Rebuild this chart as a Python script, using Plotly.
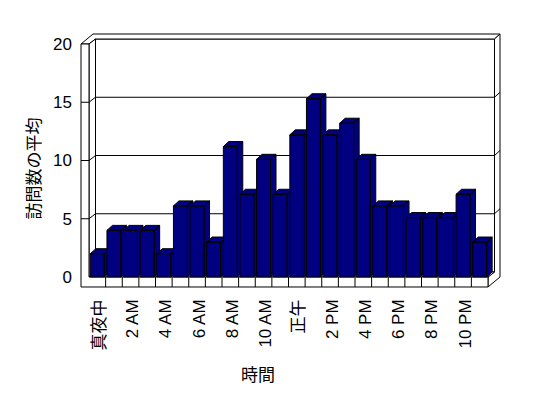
import plotly.graph_objects as go

# ---- data ----
hours = ["真夜中", "1 AM", "2 AM", "3 AM", "4 AM", "5 AM", "6 AM", "7 AM",
         "8 AM", "9 AM", "10 AM", "11 AM", "正午", "1 PM", "2 PM", "3 PM",
         "4 PM", "5 PM", "6 PM", "7 PM", "8 PM", "9 PM", "10 PM", "11 PM"]
visits = [2.0, 4.0, 4.0, 4.0, 2.0, 6.1, 6.1, 3.0, 11.2, 7.1, 10.1, 7.1,
          12.2, 15.3, 12.2, 13.2, 10.1, 6.1, 6.1, 5.1, 5.1, 5.1, 7.1, 3.0]
x_tick_idx = [0, 2, 4, 6, 8, 10, 12, 14, 16, 18, 20, 22]
x_tick_text = ["真夜中", "2 AM", "4 AM", "6 AM", "8 AM", "10 AM", "正午",
               "2 PM", "4 PM", "6 PM", "8 PM", "10 PM"]
y_ticks = [0, 5, 10, 15, 20]
y_grid = [5, 10, 15]
Y_MAX = 20
x_title = "時間"
y_title = "訪問数の平均"

# ---- 3D look (in axis units) ----
HALF = 0.42          # half bar width
BDX, BDY = 0.33, 0.43  # bar depth projection
FDX, FDY = 0.391, 0.429  # floor depth (to inner back wall)
TDX, TDY = 0.722, 0.858  # total depth incl. wall thickness
LW = 0.481           # left wall thickness
FH = 0.858           # floor thickness
NAVY = "#000080"
FONT = "Liberation Sans, Arial, Noto Sans CJK JP"

n = len(visits)
L, R = -0.5, n - 0.5

fig = go.Figure()


def poly(xs, ys, fill, width=1):
    fig.add_trace(go.Scatter(x=xs, y=ys, mode="lines", fill="toself",
                             fillcolor=fill, line=dict(color="black", width=width),
                             hoverinfo="skip", showlegend=False))


def line(xs, ys):
    fig.add_trace(go.Scatter(x=xs, y=ys, mode="lines",
                             line=dict(color="black", width=1),
                             hoverinfo="skip", showlegend=False))


# back wall inner face
poly([L + FDX, R + FDX, R + FDX, L + FDX, L + FDX],
     [FDY, FDY, Y_MAX + FDY, Y_MAX + FDY, FDY], "white")
# top of walls
poly([L - LW, L, L + FDX, R + FDX, R + TDX, L - LW + TDX, L - LW],
     [Y_MAX, Y_MAX, Y_MAX + FDY, Y_MAX + FDY, Y_MAX + TDY, Y_MAX + TDY, Y_MAX], "white")
# right side (floor + back wall thickness)
poly([R, R, R + TDX, R + TDX, R + FDX, R + FDX, R],
     [0, -FH, -FH + TDY, Y_MAX + TDY, Y_MAX + FDY, FDY, 0], "white")
# left wall inner face
poly([L, L + FDX, L + FDX, L, L], [0, FDY, Y_MAX + FDY, Y_MAX, 0], "white")
# floor top
poly([L, R, R + FDX, L + FDX, L], [0, 0, FDY, FDY, 0], "white")
# floor front + left wall front
poly([L - LW, R, R, L, L, L - LW, L - LW],
     [-FH, -FH, 0, 0, Y_MAX, Y_MAX, -FH], "white")
# category separators on the floor front
sx, sy = [], []
for k in range(1, n):
    sx += [L + k, L + k, None]
    sy += [-FH, 0, None]
line(sx, sy)
# gridlines
gx, gy = [], []
for v in y_grid:
    gx += [L - LW, L, L + FDX, R + FDX, R + TDX, None]
    gy += [v, v, v + FDY, v + FDY, v + TDY, None]
line(gx, gy)

# bars
for i, v in enumerate(visits):
    x0, x1 = i - HALF, i + HALF
    xs = [x0, x1, x1, x0, x0, None,
          x0, x1, x1 + BDX, x0 + BDX, x0, None,
          x1, x1 + BDX, x1 + BDX, x1, x1]
    ys = [0, 0, v, v, 0, None,
          v, v, v + BDY, v + BDY, v, None,
          0, BDY, v + BDY, v, 0]
    poly(xs, ys, NAVY)

fig.update_layout(
    width=540, height=390,
    margin=dict(l=68, r=42, t=20, b=106),
    paper_bgcolor="white", plot_bgcolor="white",
    font=dict(family=FONT, size=17, color="black"),
    xaxis=dict(range=[-1.282, 24.583], showgrid=False, zeroline=False,
               showline=False, ticks="", tickmode="array",
               tickvals=x_tick_idx, ticktext=x_tick_text, tickangle=-90,
               ticklabelstandoff=3, ticklabelshift=2),
    yaxis=dict(range=[-1.288, 21.373], showgrid=False, zeroline=False,
               showline=False, ticks="", tickmode="array",
               tickvals=y_ticks, ticklabelstandoff=3),
    annotations=[
        dict(text=x_title, xref="paper", yref="paper", x=0.4244, y=-0.3144,
             xanchor="center", yanchor="middle", showarrow=False,
             font=dict(size=17)),
        dict(text=y_title, xref="paper", yref="paper", x=-0.0942, y=0.4697,
             xanchor="center", yanchor="middle", showarrow=False,
             textangle=-90, font=dict(size=17)),
    ],
)

fig.write_html("out.html")
